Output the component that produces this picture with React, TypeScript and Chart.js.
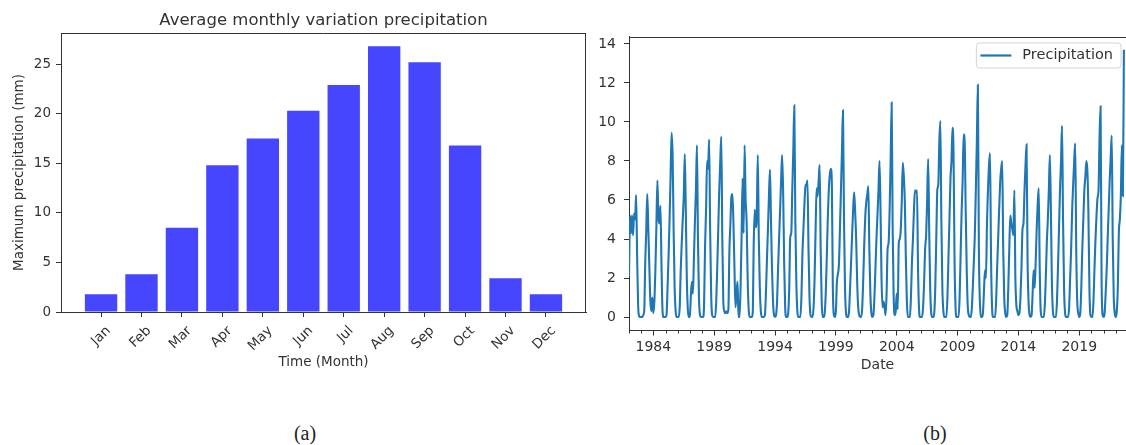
import React, { useEffect, useRef } from "react";
import { Chart, registerables } from "chart.js";

Chart.register(...registerables);

// ---------- Data: chart (a) ----------
const months = ["Jan", "Feb", "Mar", "Apr", "May", "Jun", "Jul", "Aug", "Sep", "Oct", "Nov", "Dec"];
const monthlyMax = [1.8, 3.8, 8.5, 14.8, 17.5, 20.3, 22.9, 26.8, 25.2, 16.8, 3.4, 1.8];
const barYTicks = [0, 5, 10, 15, 20, 25];

// ---------- Data: chart (b) ----------
const firstYear = 1982;
const lineYTicks = [0, 2, 4, 6, 8, 10, 12, 14];
const yearTickLabels = [1984, 1989, 1994, 1999, 2004, 2009, 2014, 2019];
// one row per year (Jan..Dec), 1982 .. 2022 (2022 ends in Sep)
const monthlyPrecip: number[][] = [
  [2.1, 5.2, 4.3, 5.2, 4.2, 5.3, 5.0, 6.25, 3.2, 0.6, 0.05, 0.0],
  [0.0, 0.0, 0.1, 0.3, 2.8, 4.4, 6.3, 4.6, 2.7, 0.9, 0.3, 1.0],
  [0.2, 0.8, 2.4, 4.6, 7.0, 5.1, 4.8, 5.7, 2.8, 0.4, 0.0, 0.0],
  [0.0, 0.1, 1.5, 3.1, 5.0, 7.2, 9.45, 8.3, 4.5, 1.5, 0.3, 0.0],
  [0.0, 0.0, 0.5, 2.4, 3.8, 5.0, 6.2, 8.35, 5.5, 2.0, 0.4, 0.0],
  [0.0, 1.1, 1.8, 1.2, 3.0, 4.9, 6.5, 8.8, 4.0, 1.0, 0.1, 0.0],
  [0.0, 0.0, 0.6, 3.6, 5.5, 8.0, 7.6, 9.1, 4.5, 1.2, 0.1, 0.0],
  [0.0, 0.0, 0.8, 2.5, 4.5, 6.5, 8.0, 9.25, 4.0, 0.8, 0.3, 0.2],
  [0.3, 0.2, 0.4, 3.4, 4.8, 6.2, 6.3, 4.8, 2.5, 0.5, 1.2, 1.8],
  [0.0, 0.0, 1.5, 4.0, 7.1, 4.3, 8.8, 6.0, 4.9, 2.0, 0.4, 0.0],
  [0.0, 0.0, 0.2, 3.8, 5.5, 4.6, 5.3, 8.3, 4.0, 1.5, 0.3, 0.0],
  [0.0, 0.0, 0.1, 1.2, 2.9, 4.5, 6.2, 7.55, 5.0, 2.5, 0.8, 0.1],
  [0.0, 0.1, 0.8, 2.5, 4.0, 5.5, 7.0, 8.3, 6.4, 2.8, 0.5, 0.0],
  [0.0, 0.2, 1.5, 4.1, 4.3, 6.5, 8.5, 10.85, 5.0, 1.8, 0.3, 0.0],
  [0.0, 0.0, 1.0, 3.2, 4.5, 5.8, 6.7, 6.8, 7.0, 3.5, 1.0, 0.1],
  [0.0, 0.0, 0.5, 2.0, 4.5, 6.6, 6.2, 7.0, 7.8, 3.5, 0.8, 0.0],
  [0.0, 0.2, 1.2, 3.0, 5.0, 6.5, 7.3, 7.6, 6.9, 1.5, 0.1, 0.0],
  [0.3, 1.8, 2.2, 2.7, 4.5, 6.5, 8.5, 10.6, 5.0, 1.5, 0.2, 0.0],
  [0.0, 0.3, 1.5, 2.8, 4.2, 5.5, 6.4, 5.4, 4.0, 1.8, 0.5, 0.1],
  [0.0, 0.0, 0.5, 2.0, 3.8, 5.2, 5.9, 6.3, 6.7, 3.5, 1.2, 0.2],
  [0.0, 0.1, 1.0, 2.5, 4.0, 5.2, 6.5, 8.0, 5.6, 2.0, 0.5, 0.8],
  [0.5, 0.1, 1.2, 3.5, 3.8, 5.5, 8.0, 11.0, 4.5, 1.0, 0.1, 0.3],
  [1.2, 0.4, 3.8, 4.0, 4.5, 6.0, 7.9, 7.2, 5.9, 3.0, 0.8, 0.0],
  [0.0, 0.0, 1.0, 2.8, 4.0, 5.5, 6.5, 6.4, 6.5, 2.5, 0.4, 0.0],
  [0.0, 0.0, 0.5, 1.8, 3.5, 4.2, 6.0, 8.1, 4.5, 1.5, 0.2, 0.0],
  [0.0, 0.2, 1.5, 4.0, 6.5, 6.8, 9.0, 10.05, 5.0, 1.5, 0.3, 0.0],
  [0.0, 0.0, 1.0, 3.0, 5.0, 7.1, 8.0, 9.7, 8.5, 3.0, 0.5, 0.0],
  [0.0, 0.0, 1.0, 3.2, 5.4, 7.0, 9.37, 9.0, 5.5, 2.5, 0.6, 0.1],
  [0.0, 0.0, 0.4, 1.5, 2.8, 4.2, 6.5, 9.0, 11.9, 3.5, 0.8, 0.0],
  [0.0, 0.2, 1.3, 2.4, 2.0, 4.8, 6.5, 7.8, 8.4, 3.0, 0.5, 0.0],
  [0.0, 0.0, 0.8, 2.5, 4.0, 5.5, 6.9, 7.6, 8.0, 3.5, 1.0, 0.2],
  [0.0, 0.1, 1.5, 3.5, 5.2, 4.8, 4.5, 4.2, 6.5, 2.0, 0.6, 0.3],
  [0.1, 0.2, 1.0, 2.5, 4.5, 4.8, 6.5, 7.8, 8.85, 3.0, 0.8, 0.1],
  [0.0, 0.1, 1.2, 2.4, 1.5, 2.8, 4.5, 5.8, 6.6, 2.5, 0.3, 0.0],
  [0.0, 0.0, 0.6, 2.0, 3.8, 5.0, 6.5, 8.3, 5.5, 1.8, 0.3, 0.0],
  [0.0, 0.0, 0.8, 2.5, 4.5, 6.5, 8.0, 9.8, 5.0, 1.5, 0.2, 0.0],
  [0.0, 0.0, 0.5, 2.0, 3.5, 5.5, 6.8, 8.0, 8.9, 3.5, 0.8, 0.2],
  [0.0, 0.2, 1.5, 3.5, 5.0, 6.5, 7.2, 8.0, 7.5, 5.4, 1.5, 0.1],
  [0.0, 0.0, 0.8, 2.5, 4.0, 5.2, 6.1, 6.5, 9.2, 10.8, 2.0, 0.1],
  [0.0, 0.2, 1.2, 2.4, 4.0, 5.5, 7.0, 8.2, 9.3, 4.0, 1.0, 0.2],
  [0.0, 0.3, 1.5, 4.3, 5.0, 6.2, 8.8, 6.2, 13.7],
];

// ---------- Styles ----------
const FAMILY = "'DejaVu Sans', sans-serif";
const TEXT = "#333333";
const AXIS = "#333333";

const framePlugin = (withRight: boolean) => ({
  id: "frame",
  afterDraw(chart: any) {
    const { ctx, chartArea } = chart;
    const { left, right, top, bottom } = chartArea;
    ctx.save();
    ctx.strokeStyle = AXIS;
    ctx.lineWidth = 1;
    ctx.beginPath();
    const t = Math.round(top) + 0.5;
    ctx.moveTo(left, t);
    ctx.lineTo(right, t);
    if (withRight) {
      const r = Math.round(right) - 0.5;
      ctx.moveTo(r, top);
      ctx.lineTo(r, bottom);
    }
    ctx.stroke();
    ctx.restore();
  },
});

const minorTickPlugin = {
  id: "minorTicks",
  afterDraw(chart: any) {
    const xs = chart.scales.x;
    const { ctx, chartArea } = chart;
    ctx.save();
    ctx.strokeStyle = AXIS;
    ctx.lineWidth = 1;
    ctx.beginPath();
    for (let y = Math.ceil(xs.min); y <= Math.floor(xs.max); y++) {
      if (yearTickLabels.includes(y)) continue;
      const px = Math.round(xs.getPixelForValue(y)) + 0.5;
      ctx.moveTo(px, chartArea.bottom);
      ctx.lineTo(px, chartArea.bottom + 3);
    }
    ctx.stroke();
    ctx.restore();
  },
};

const legendPlugin = {
  id: "boxLegend",
  afterDatasetsDraw(chart: any) {
    const { ctx, chartArea } = chart;
    const ds = chart.data.datasets[0];
    ctx.save();
    ctx.font = `14.5px ${FAMILY}`;
    const tw = ctx.measureText(ds.label).width;
    const right = chartArea.right - 5;
    const top = chartArea.top + 6.5;
    const h = 25;
    const w = 4 + 31 + 11 + tw + 8;
    const left = right - w;
    ctx.beginPath();
    const r = 3;
    ctx.moveTo(left + r, top);
    ctx.lineTo(right - r, top);
    ctx.quadraticCurveTo(right, top, right, top + r);
    ctx.lineTo(right, top + h - r);
    ctx.quadraticCurveTo(right, top + h, right - r, top + h);
    ctx.lineTo(left + r, top + h);
    ctx.quadraticCurveTo(left, top + h, left, top + h - r);
    ctx.lineTo(left, top + r);
    ctx.quadraticCurveTo(left, top, left + r, top);
    ctx.fillStyle = "rgba(255,255,255,0.85)";
    ctx.fill();
    ctx.strokeStyle = "#d4d4d4";
    ctx.lineWidth = 1;
    ctx.stroke();
    const cy = top + h / 2;
    ctx.strokeStyle = ds.borderColor;
    ctx.lineWidth = 2.2;
    ctx.beginPath();
    ctx.moveTo(left + 4, cy);
    ctx.lineTo(left + 35, cy);
    ctx.stroke();
    ctx.fillStyle = TEXT;
    ctx.textBaseline = "middle";
    ctx.textAlign = "left";
    ctx.fillText(ds.label, left + 46, cy);
    ctx.restore();
  },
};

function BarChart() {
  const ref = useRef<HTMLCanvasElement>(null);
  useEffect(() => {
    const font = { family: FAMILY, size: 13.5 };
    const chart = new Chart(ref.current as HTMLCanvasElement, {
      type: "bar",
      data: {
        datasets: [
          {
            label: "Maximum precipitation",
            data: monthlyMax.map((v, i) => ({ x: i, y: v })),
            backgroundColor: "#4646ff",
            barPercentage: 0.8,
            categoryPercentage: 1,
          },
        ],
      },
      options: {
        animation: false,
        responsive: false,
        maintainAspectRatio: false,
        layout: { padding: { left: 0, right: 4, top: 0, bottom: 0 } },
        plugins: {
          legend: { display: false },
          tooltip: { enabled: false },
          title: {
            display: true,
            text: "Average monthly variation precipitation",
            fullSize: false,
            color: TEXT,
            font: { family: FAMILY, size: 16.5, weight: "normal" },
            padding: { top: 10.6, bottom: 2.6 },
          },
        },
        scales: {
          x: {
            type: "linear",
            min: -0.99,
            max: 11.99,
            offset: false,
            afterBuildTicks: (s: any) => {
              s.ticks = months.map((_, i) => ({ value: i }));
            },
            ticks: {
              callback: (v: any) => months[v as number],
              minRotation: 45,
              maxRotation: 45,
              autoSkip: false,
              font,
              color: TEXT,
              padding: 6,
              labelOffset: 7.5,
            },
            grid: { offset: false, drawOnChartArea: false, drawTicks: true, tickLength: 5, tickColor: AXIS },
            border: { display: true, color: AXIS, width: 1 },
            title: { display: true, text: "Time (Month)", color: TEXT, font, padding: { top: 0, bottom: 9 } },
            afterFit: (s: any) => {
              s.height = 68;
            },
          },
          y: {
            min: 0,
            max: 28.14,
            afterBuildTicks: (s: any) => {
              s.ticks = barYTicks.map((v) => ({ value: v }));
            },
            ticks: { font, color: TEXT, padding: 5 },
            grid: { drawOnChartArea: false, drawTicks: true, tickLength: 5, tickColor: AXIS },
            border: { display: true, color: AXIS, width: 1 },
            title: {
              display: true,
              text: "Maximum precipitation (mm)",
              color: TEXT,
              font,
              padding: { top: 11, bottom: 0 },
            },
            afterFit: (s: any) => {
              s.width = 61;
            },
          },
        },
      } as any,
      plugins: [framePlugin(true)],
    });
    return () => chart.destroy();
  }, []);
  return (
    <canvas ref={ref} width={590} height={380} style={{ position: "absolute", left: 0, top: 0, width: 590, height: 380 }} />
  );
}

function LineChart() {
  const ref = useRef<HTMLCanvasElement>(null);
  useEffect(() => {
    const font = { family: FAMILY, size: 14 };
    const points: { x: number; y: number }[] = [];
    monthlyPrecip.forEach((row, yi) => {
      row.forEach((v, m) => points.push({ x: firstYear + yi + m / 12, y: v }));
    });
    const chart = new Chart(ref.current as HTMLCanvasElement, {
      type: "line",
      data: {
        datasets: [
          {
            label: "Precipitation",
            data: points,
            borderColor: "#1f77b4",
            borderWidth: 2.1,
            pointRadius: 0,
            cubicInterpolationMode: "monotone",
            fill: false,
          },
        ],
      },
      options: {
        animation: false,
        responsive: false,
        maintainAspectRatio: false,
        layout: { padding: { left: 0, right: 0, top: 36.5, bottom: 0 } },
        plugins: { legend: { display: false }, tooltip: { enabled: false } },
        scales: {
          x: {
            type: "linear",
            min: 1982,
            max: 2022.84,
            afterBuildTicks: (s: any) => {
              s.ticks = yearTickLabels.map((v) => ({ value: v }));
            },
            ticks: {
              callback: (v: any) => String(v),
              maxRotation: 0,
              autoSkip: false,
              font,
              color: TEXT,
              padding: 3,
            },
            grid: { drawOnChartArea: false, drawTicks: true, tickLength: 5, tickColor: AXIS },
            border: { display: true, color: AXIS, width: 1 },
            title: { display: true, text: "Date", color: TEXT, font, padding: { top: 0, bottom: 6.6 } },
            afterFit: (s: any) => {
              s.height = 49.5;
            },
          },
          y: {
            min: -0.69,
            max: 14.38,
            afterBuildTicks: (s: any) => {
              s.ticks = lineYTicks.map((v) => ({ value: v }));
            },
            ticks: { font, color: TEXT, padding: 8 },
            grid: { drawOnChartArea: false, drawTicks: true, tickLength: 5, tickColor: AXIS },
            border: { display: true, color: AXIS, width: 1 },
            afterFit: (s: any) => {
              s.width = 49;
            },
          },
        },
      } as any,
      plugins: [framePlugin(false), minorTickPlugin, legendPlugin],
    });
    return () => chart.destroy();
  }, []);
  return (
    <canvas ref={ref} width={546} height={380} style={{ position: "absolute", left: 580, top: 0, width: 546, height: 380 }} />
  );
}

export default function App() {
  const caption: React.CSSProperties = {
    position: "absolute",
    top: 421,
    transform: "translateX(-50%)",
    fontFamily: "'Liberation Serif', 'Times New Roman', serif",
    fontSize: 20,
    lineHeight: "24px",
    color: "#222",
    whiteSpace: "nowrap",
  };
  return (
    <div style={{ position: "absolute", left: 0, top: 0, width: 1126, height: 445, background: "#fff", overflow: "hidden" }}>
      <BarChart />
      <LineChart />
      <div style={{ ...caption, left: 305 }}>(a)</div>
      <div style={{ ...caption, left: 935 }}>(b)</div>
    </div>
  );
}
